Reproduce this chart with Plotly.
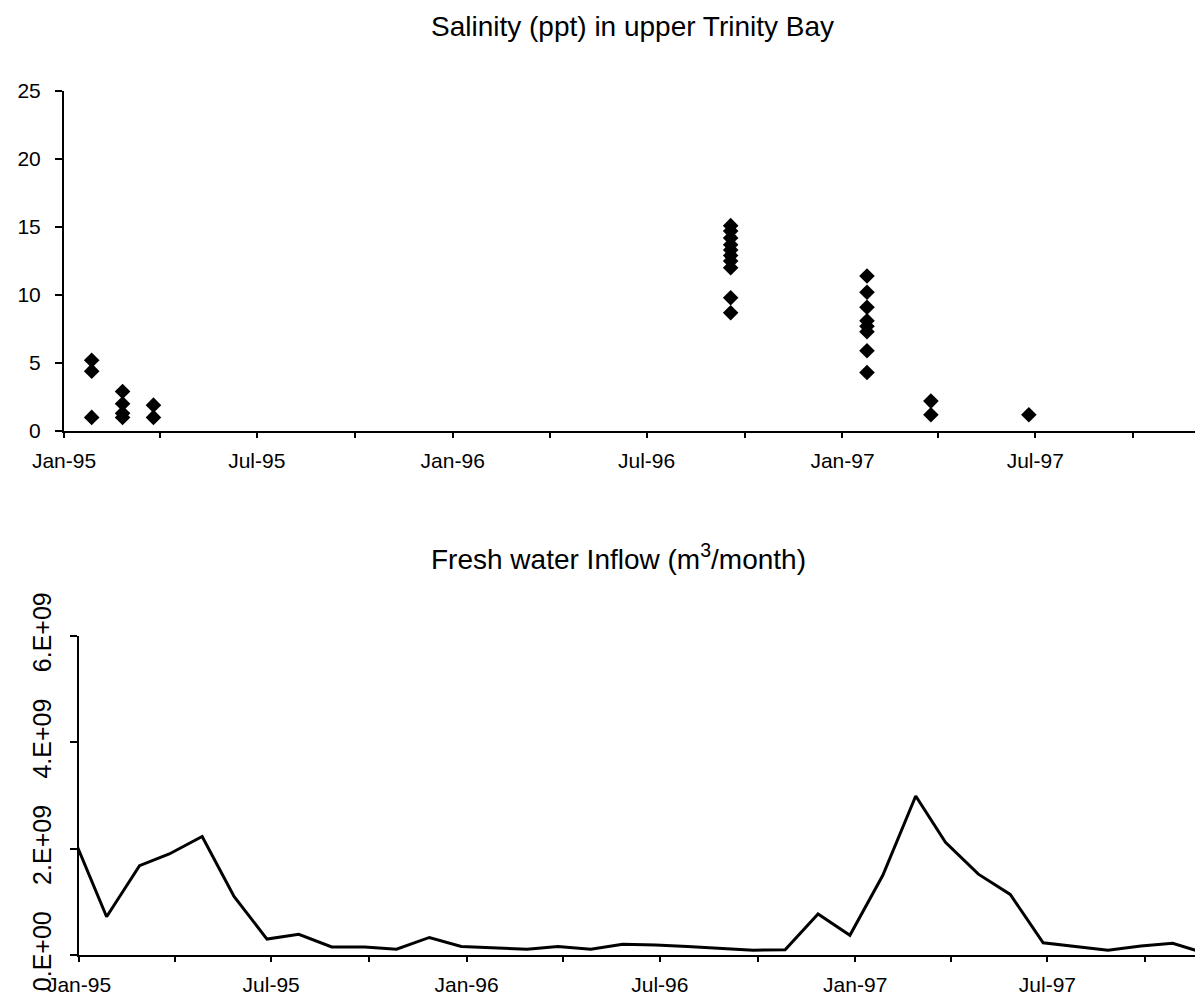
import plotly.graph_objects as go
import pandas as pd

# ---- Salinity data (top panel) ----
sal_dates = (["1995-01-27"] * 3 + ["1995-02-25"] * 4 + ["1995-03-26"] * 2 +
             ["1996-09-18"] * 10 + ["1997-01-24"] * 8 + ["1997-03-25"] * 2 +
             ["1997-06-25"])
sal_values = [5.2, 4.4, 1.0,
              2.9, 2.0, 1.3, 1.0,
              1.9, 1.0,
              15.1, 14.7, 14.2, 13.7, 13.3, 12.9, 12.5, 12.0, 9.8, 8.7,
              11.4, 10.2, 9.1, 8.1, 7.7, 7.3, 5.9, 4.3,
              2.2, 1.2,
              1.2]

# ---- Fresh water inflow (bottom panel), monthly ----
flow_dates = [d.strftime("%Y-%m-%d") for d in
              pd.date_range("1994-12-27", periods=37, freq=pd.DateOffset(months=1))]
flow_values = [2.20e9, 0.72e9, 1.68e9, 1.90e9, 2.23e9, 1.10e9, 0.30e9, 0.39e9,
               0.15e9, 0.15e9, 0.11e9, 0.33e9, 0.16e9, 0.14e9, 0.11e9, 0.16e9,
               0.11e9, 0.20e9, 0.19e9, 0.16e9, 0.12e9, 0.09e9, 0.10e9, 0.77e9,
               0.37e9, 1.50e9, 2.99e9, 2.12e9, 1.52e9, 1.14e9, 0.23e9, 0.16e9,
               0.09e9, 0.17e9, 0.22e9, 0.03e9, 0.03e9]

flow_tickvals = [0, 2e9, 4e9, 6e9]
flow_ticktext = ["0.E+00", "2.E+09", "4.E+09", "6.E+09"]
sal_tickvals = [0, 5, 10, 15, 20, 25]

FONT = "Liberation Sans, Arial, sans-serif"
W, H = 1195, 998

fig = go.Figure()
fig.add_trace(go.Scatter(x=sal_dates, y=sal_values, mode="markers",
                         marker=dict(symbol="diamond", size=12, color="black"),
                         xaxis="x", yaxis="y", cliponaxis=False))
fig.add_trace(go.Scatter(x=flow_dates, y=flow_values, mode="lines",
                         line=dict(color="black", width=3),
                         xaxis="x2", yaxis="y2"))

common_x = dict(type="date", tickformat="%b-%y", dtick="M6", tick0="1995-01-01",
                ticks="outside", ticklen=5, tickwidth=1.5, tickcolor="black",
                showline=True, linecolor="black", linewidth=2,
                showgrid=False, zeroline=False, automargin=False,
                minor=dict(dtick="M3", ticks="outside", ticklen=5, tickwidth=1.5,
                           tickcolor="black", showgrid=False),
                tickfont=dict(family=FONT, size=21, color="black"),
                ticklabelstandoff=5)

fig.update_layout(
    template="none",
    width=W, height=H,
    margin=dict(l=0, r=0, t=0, b=0, pad=0),
    paper_bgcolor="white", plot_bgcolor="white",
    showlegend=False,
    font=dict(family=FONT, color="black"),
    xaxis=dict(domain=[64 / W, 1.0], anchor="y",
               range=["1995-01-01", "1997-11-28"], **common_x),
    yaxis=dict(domain=[(H - 431) / H, (H - 91) / H], anchor="x",
               range=[0, 25], tickvals=sal_tickvals, automargin=False,
               ticks="outside", ticklen=7, tickwidth=1.5, tickcolor="black",
               showline=True, linecolor="black", linewidth=2,
               showgrid=False, zeroline=False,
               tickfont=dict(family=FONT, size=21, color="black"),
               ticklabelstandoff=10),
    xaxis2=dict(domain=[79 / W, 1.0], anchor="y2",
                range=["1995-01-01", "1997-11-17"], **common_x),
    yaxis2=dict(domain=[(H - 955) / H, (H - 636) / H], anchor="x2",
                range=[0, 6e9], tickvals=flow_tickvals, ticktext=flow_ticktext,
                tickangle=-90, automargin=False,
                ticks="outside", ticklen=7, tickwidth=1.5, tickcolor="black",
                showline=True, linecolor="black", linewidth=2,
                showgrid=False, zeroline=False,
                tickfont=dict(family=FONT, size=25, color="black"),
                ticklabelstandoff=9),
    annotations=[
        dict(text="Salinity (ppt) in upper Trinity Bay", x=632 / W, y=(H - 26) / H,
             xref="paper", yref="paper", showarrow=False,
             xanchor="center", yanchor="middle",
             font=dict(family=FONT, size=28, color="black")),
        dict(text="Fresh water Inflow (m<sup>3</sup>/month)", x=618 / W, y=(H - 557) / H,
             xref="paper", yref="paper", showarrow=False,
             xanchor="center", yanchor="middle",
             font=dict(family=FONT, size=28, color="black")),
    ],
)

fig.write_html("out.html")
